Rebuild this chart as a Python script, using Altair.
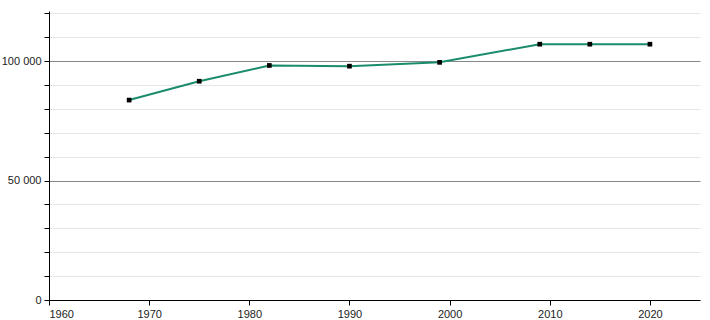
import altair as alt
import pandas as pd

years = [1968, 1975, 1982, 1990, 1999, 2009, 2014, 2020]
population = [83700, 91600, 98200, 97900, 99500, 107100, 107100, 107100]

df = pd.DataFrame({"year": years, "pop": population})

x_ticks = list(range(1960, 2021, 10))
y_ticks = list(range(0, 120001, 10000))

x = alt.X("year:Q",
          scale=alt.Scale(domain=[1960, 2025], nice=False, zero=False),
          axis=alt.Axis(values=x_ticks, tickCount=20, format="d", title=None, grid=False,
                        domainColor="#000", tickColor="#000", tickSize=5,
                        labelFont="Liberation Sans", labelFontSize=11,
                        labelColor="#222", labelPadding=3))
y = alt.Y("pop:Q",
          scale=alt.Scale(domain=[0, 121000], nice=False),
          axis=alt.Axis(values=y_ticks, tickCount=30, title=None, grid=True,
                        labelOverlap=False,
                        gridColor={"condition": {"test": "datum.value % 50000 === 0 && datum.value > 0",
                                                 "value": "#888888"},
                                   "value": "#e6e6e6"},
                        labelExpr="datum.value % 50000 === 0 ? replace(format(datum.value, ',d'), ',', ' ') : ''",
                        domainColor="#000", tickColor="#000", tickSize=5,
                        labelFont="Liberation Sans", labelFontSize=11,
                        labelColor="#222", labelPadding=3))

line = alt.Chart(df).mark_line(color="#1a8c6c", strokeWidth=2).encode(x=x, y=y)
pts = alt.Chart(df).mark_square(color="#000", size=22, opacity=1).encode(x="year:Q", y="pop:Q")

chart = (line + pts).properties(
    width=651, height=289,
    autosize="none",
    padding={"left": 49, "top": 11, "right": 10, "bottom": 20},
).configure_view(stroke=None)

chart.save("out.html", embed_options={"renderer": "svg", "actions": False})
